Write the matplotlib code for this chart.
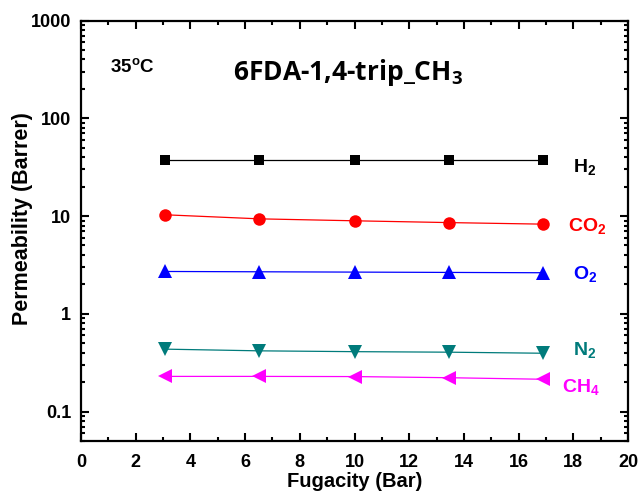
import matplotlib
matplotlib.use("Agg")
import matplotlib.pyplot as plt
from matplotlib.ticker import MultipleLocator, LogLocator, FixedLocator, NullFormatter

plt.rcParams['font.family'] = ['Liberation Sans', 'DejaVu Sans']
plt.rcParams['font.weight'] = 'bold'
plt.rcParams['mathtext.fontset'] = 'custom'
plt.rcParams['mathtext.rm'] = 'Liberation Sans:bold'
plt.rcParams['mathtext.bf'] = 'Liberation Sans:bold'
plt.rcParams['mathtext.it'] = 'Liberation Sans:bold'

# Fugacity (bar) and permeability (Barrer) for each gas
fugacity = [3.07, 6.52, 10.0, 13.44, 16.9]
h2 = [37.0, 37.0, 37.0, 37.0, 37.0]
co2 = [10.3, 9.36, 8.94, 8.57, 8.26]
o2 = [2.71, 2.69, 2.67, 2.65, 2.63]
n2 = [0.435, 0.418, 0.410, 0.405, 0.395]
ch4 = [0.229, 0.229, 0.228, 0.222, 0.214]

gas_labels = [r'$\mathbf{H_2}$', r'$\mathbf{CO_2}$', r'$\mathbf{O_2}$',
              r'$\mathbf{N_2}$', r'$\mathbf{CH_4}$']
x_ticks = [0, 2, 4, 6, 8, 10, 12, 14, 16, 18, 20]
y_ticks = [0.1, 1, 10, 100, 1000]
y_ticklabels = ['0.1', '1', '10', '100', '1000']

fig = plt.figure(figsize=(6.42, 4.94), dpi=100)
ax = fig.add_axes([81 / 642, 1 - 441 / 494, 547 / 642, 420.5 / 494])

series = [
    (h2, 's', 'black', 7.5),
    (co2, 'o', '#ff0000', 9),
    (o2, '^', '#0000ff', 10),
    (n2, 'v', '#007b7b', 10),
    (ch4, '<', '#ff00ff', 10),
]
for vals, mk, col, ms in series:
    ax.plot(fugacity, vals, marker=mk, color=col, markersize=ms,
            linewidth=0.9, markeredgewidth=0)

ax.set_yscale('log')
ax.set_xlim(0, 20)
ax.set_ylim(0.05, 1000)

ax.xaxis.set_major_locator(FixedLocator(x_ticks))
ax.xaxis.set_minor_locator(MultipleLocator(1))
ax.set_xticklabels([str(t) for t in x_ticks])
ax.yaxis.set_major_locator(FixedLocator(y_ticks))
ax.set_yticklabels(y_ticklabels)
ax.yaxis.set_minor_locator(LogLocator(base=10, subs=range(2, 10), numticks=20))
ax.yaxis.set_minor_formatter(NullFormatter())

ax.tick_params(which='both', direction='in', top=True, right=True,
               width=1.5, labelsize=13)
ax.tick_params(axis='x', pad=9)
ax.tick_params(axis='y', pad=7)
ax.tick_params(which='major', length=6)
ax.tick_params(which='minor', length=3)
for s in ax.spines.values():
    s.set_linewidth(1.6)

ax.set_xlabel('Fugacity (Bar)', fontsize=14.5, fontweight='bold', labelpad=1)
ax.set_ylabel('Permeability (Barrer)', fontsize=15.5, fontweight='bold')
ax.yaxis.set_label_coords(-0.088, 0.53)

# gas labels at the right end of each series
label_pos = [(18.0, 28.5), (17.8, 7.11), (18.0, 2.26), (18.0, 0.38), (17.6, 0.160)]
colors = ['black', '#ff0000', '#0000ff', '#007b7b', '#ff00ff']
for lab, (lx, ly), col in zip(gas_labels, label_pos, colors):
    ax.text(lx, ly, lab, color=col, fontsize=14, ha='left', va='baseline')

ax.text(1.05, 10 ** (3 - (71.7 - 20.7) / 97.75), r'$\mathbf{35^{o}C}$',
        fontsize=13.5, ha='left', va='baseline')
ax.text(5.55, 10 ** (3 - (80 - 20.7) / 97.75), r'6FDA-1,4-trip_CH$_\mathregular{3}$',
        fontsize=19, ha='left', va='baseline', family='Open Sans', fontweight='bold')

fig.savefig('out.png', dpi=100)
